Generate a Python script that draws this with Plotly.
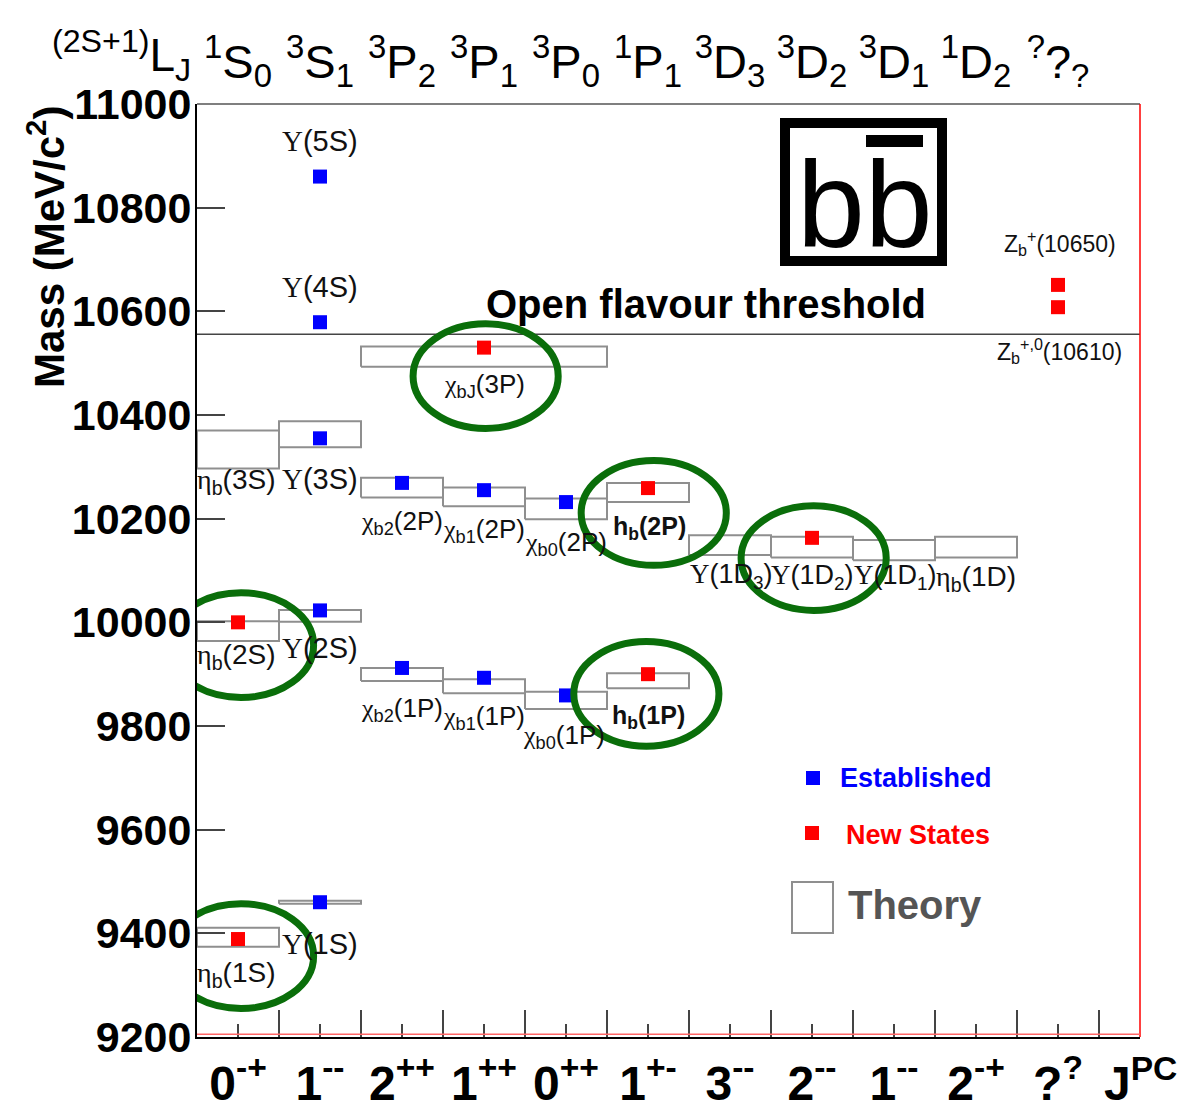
import plotly.graph_objects as go

# ------------------------------------------------------------------ data
spin_labels = ["<sup>1</sup>S<sub>0</sub>", "<sup>3</sup>S<sub>1</sub>", "<sup>3</sup>P<sub>2</sub>",
               "<sup>3</sup>P<sub>1</sub>", "<sup>3</sup>P<sub>0</sub>", "<sup>1</sup>P<sub>1</sub>",
               "<sup>3</sup>D<sub>3</sub>", "<sup>3</sup>D<sub>2</sub>", "<sup>3</sup>D<sub>1</sub>",
               "<sup>1</sup>D<sub>2</sub>", "<sup>?</sup>?<sub>?</sub>"]
jpc_labels = ["0<sup>-+</sup>", "1<sup>--</sup>", "2<sup>++</sup>", "1<sup>++</sup>", "0<sup>++</sup>",
              "1<sup>+-</sup>", "3<sup>--</sup>", "2<sup>--</sup>", "1<sup>--</sup>", "2<sup>-+</sup>",
              "?<sup>?</sup>"]

# established states (column index, mass in MeV/c^2)
est_names = ["Υ(1S)", "Υ(2S)", "Υ(3S)", "Υ(4S)", "Υ(5S)",
             "χb2(1P)", "χb1(1P)", "χb0(1P)", "χb2(2P)", "χb1(2P)", "χb0(2P)"]
est_col = [1, 1, 1, 1, 1, 2, 3, 4, 2, 3, 4]
est_mass = [9460, 10023, 10355, 10579, 10860, 9912, 9893, 9859, 10269, 10255, 10232]

# new states
new_names = ["ηb(1S)", "ηb(2S)", "hb(1P)", "hb(2P)", "Υ(1D2)", "χbJ(3P)", "Zb(10610)", "Zb(10650)"]
new_col = [0, 0, 5, 5, 7, 3, 10, 10]
new_mass = [9389, 10000, 9900, 10259, 10163, 10530, 10608, 10651]

# theory predictions (column span, mass range)
theory_names = ["ηb(1S)", "Υ(1S)", "ηb(2S)", "Υ(2S)", "ηb(3S)", "Υ(3S)",
                "χb2(1P)", "χb1(1P)", "χb0(1P)", "hb(1P)",
                "χb2(2P)", "χb1(2P)", "χb0(2P)", "hb(2P)",
                "Υ(1D3)", "Υ(1D2)", "Υ(1D1)", "ηb2(1D)", "χbJ(3P)"]
theory_col_from = [0, 1, 0, 1, 0, 1, 2, 3, 4, 5, 2, 3, 4, 5, 6, 7, 8, 9, 2]
theory_col_to = [1, 2, 1, 2, 1, 2, 3, 4, 5, 6, 3, 4, 5, 6, 7, 8, 9, 10, 5]
theory_low = [9374, 9457, 9964, 10001, 10297, 10338, 9887, 9863, 9833, 9873,
              10241, 10224, 10199, 10232, 10130, 10125, 10120, 10125, 10493]
theory_high = [9411, 9463, 10002, 10024, 10370, 10388, 9912, 9890, 9866, 9902,
               10279, 10260, 10239, 10269, 10168, 10165, 10159, 10165, 10532]

threshold_mass = 10556
y_ticks = [9200, 9400, 9600, 9800, 10000, 10200, 10400, 10600, 10800, 11000]

# ------------------------------------------------------------------ helpers / styles
OFF = 8                      # default page body margin
L, R, T, B = 189, 71, 96, 80
W, H = 1203, 1109
PW, PH = W - L - R, H - T - B


def px(xp):                  # screen pixel -> paper x
    return (xp - OFF - L) / PW


def py(yp):                  # screen pixel -> paper y
    return (H - B - (yp - OFF)) / PH


def g(ch):
    return "<span style='font-family:Liberation Serif'>" + ch + "</span>"


centers = [i + 0.5 for i in range(len(jpc_labels))]

fig = go.Figure()

# theory boxes
bx, by = [], []
for c0, c1, lo, hi in zip(theory_col_from, theory_col_to, theory_low, theory_high):
    bx += [c0, c1, c1, c0, c0, None]
    by += [lo, lo, hi, hi, lo, None]
fig.add_trace(go.Scatter(x=bx, y=by, mode="lines", line=dict(color="#8f8f8f", width=2),
                         hoverinfo="skip", name="Theory"))

# threshold line (on the top axis so that axis is drawn)
fig.add_trace(go.Scatter(x=[0, 11.5], y=[threshold_mass, threshold_mass], xaxis="x2",
                         mode="lines", line=dict(color="#444444", width=1.5),
                         hoverinfo="skip", name="threshold"))

fig.add_trace(go.Scatter(x=[c + 0.5 for c in est_col], y=est_mass, mode="markers",
                         marker=dict(symbol="square", size=14, color="#0000ff", line=dict(width=0)),
                         text=est_names, name="Established"))
fig.add_trace(go.Scatter(x=[c + 0.5 for c in new_col], y=new_mass, mode="markers",
                         marker=dict(symbol="square", size=14, color="#ff0000", line=dict(width=0)),
                         text=new_names, name="New States"))

# ------------------------------------------------------------------ state labels
labels = [
    (g("Υ") + "(5S)", 1.5, 10928, 29, False),
    (g("Υ") + "(4S)", 1.5, 10647, 29, False),
    (g("χ") + "<sub>bJ</sub>(3P)", 3.5, 10456, 26, False),
    (g("η") + "<sub>b</sub>(3S)", 0.48, 10271, 28, False),
    (g("Υ") + "(3S)", 1.5, 10276, 29, False),
    (g("χ") + "<sub>b2</sub>(2P)", 2.5, 10192, 26, False),
    (g("χ") + "<sub>b1</sub>(2P)", 3.5, 10178, 26, False),
    (g("χ") + "<sub>b0</sub>(2P)", 4.5, 10153, 26, False),
    ("h<sub>b</sub>(2P)", 5.52, 10182, 25, True),
    (g("Υ") + "(1D<sub>3</sub>)", 6.52, 10089, 27, False),
    (g("Υ") + "(1D<sub>2</sub>)", 7.5, 10087, 27, False),
    (g("Υ") + "(1D<sub>1</sub>)", 8.52, 10087, 27, False),
    (g("η") + "<sub>b</sub>(1D)", 9.5, 10085, 28, False),
    (g("η") + "<sub>b</sub>(2S)", 0.48, 9935, 28, False),
    (g("Υ") + "(2S)", 1.5, 9950, 29, False),
    (g("χ") + "<sub>b2</sub>(1P)", 2.5, 9831, 26, False),
    (g("χ") + "<sub>b1</sub>(1P)", 3.5, 9817, 26, False),
    (g("χ") + "<sub>b0</sub>(1P)", 4.48, 9779, 26, False),
    ("h<sub>b</sub>(1P)", 5.5, 9817, 25, True),
    (g("η") + "<sub>b</sub>(1S)", 0.48, 9320, 28, False),
    (g("Υ") + "(1S)", 1.5, 9379, 29, False),
]
ann = []
for txt, xc, yc, fs, bold in labels:
    ann.append(dict(x=xc, y=yc, xref="x", yref="y", text=txt, showarrow=False,
                    xanchor="center", yanchor="middle",
                    font=dict(size=fs, color="#111111", weight="bold" if bold else "normal")))
ann.append(dict(x=10.52, y=10732, xref="x", yref="y", text="Z<sub>b</sub><sup>+</sup>(10650)",
                showarrow=False, xanchor="center", yanchor="middle",
                font=dict(size=23, color="#111111")))
ann.append(dict(x=10.52, y=10523, xref="x", yref="y", text="Z<sub>b</sub><sup>+,0</sup>(10610)",
                showarrow=False, xanchor="center", yanchor="middle",
                font=dict(size=23, color="#111111")))


def pann(xs, ys, text, **kw):
    d = dict(x=px(xs), y=py(ys), xref="paper", yref="paper", text=text, showarrow=False,
             xanchor="center", yanchor="middle")
    d.update(kw)
    ann.append(d)


pann(706, 304, "Open flavour threshold", font=dict(size=40, weight="bold"))
pann(865, 205, "bb", font=dict(size=122))
pann(121, 55, "<sup>(2S+1)</sup>L<sub>J</sub>", font=dict(size=46))
pann(1140, 1080, "<b>J<sup>PC</sup></b>", font=dict(size=48))
pann(46, 247, "<b>Mass (MeV/c<sup>2</sup>)</b>", textangle=-90, font=dict(size=42))
pann(916, 778, "Established", font=dict(size=27, color="#0000ff", weight="bold"))
pann(918, 835, "New States", font=dict(size=27, color="#ff0000", weight="bold"))
pann(915, 905, "Theory", font=dict(size=40, color="#555555", weight="bold"))

shapes = []
# ellipses around the new states
circled = [("χbJ(3P)", 3.52, 10475), ("hb(2P)", 5.57, 10211), ("Υ(1D2)", 7.52, 10124),
           ("ηb(2S)", 0.537, 9956), ("hb(1P)", 5.48, 9862), ("ηb(1S)", 0.537, 9356)]
for _, xc, yc in circled:
    shapes.append(dict(type="circle", xref="x", yref="y", x0=xc - 0.885, x1=xc + 0.885,
                       y0=yc - 101, y1=yc + 101, line=dict(color="rgb(10,110,10)", width=7)))

# frame pieces
shapes.append(dict(type="line", xref="paper", yref="paper", x0=0, x1=1, y0=1, y1=1,
                   line=dict(color="#555555", width=1.5)))
shapes.append(dict(type="line", xref="paper", yref="paper", x0=1, x1=1, y0=0, y1=1,
                   line=dict(color="#ff0000", width=1.5)))
shapes.append(dict(type="line", xref="paper", yref="paper", x0=0, x1=1, y0=0.003, y1=0.003,
                   line=dict(color="#ff6666", width=1.5)))
# logo box and overbar
shapes.append(dict(type="rect", xref="paper", yref="paper", x0=px(785), x1=px(942),
                   y0=py(261), y1=py(123), line=dict(color="black", width=10)))
shapes.append(dict(type="rect", xref="paper", yref="paper", x0=px(866), x1=px(923),
                   y0=py(147), y1=py(135), line=dict(width=0), fillcolor="black"))
# legend symbols
shapes.append(dict(type="rect", xref="paper", yref="paper", x0=px(806), x1=px(820),
                   y0=py(785), y1=py(771), line=dict(width=0), fillcolor="#0000ff"))
shapes.append(dict(type="rect", xref="paper", yref="paper", x0=px(805), x1=px(819),
                   y0=py(840), y1=py(826), line=dict(width=0), fillcolor="#ff0000"))
shapes.append(dict(type="rect", xref="paper", yref="paper", x0=px(792), x1=px(833),
                   y0=py(933), y1=py(882), line=dict(color="#8f8f8f", width=2)))

fig.update_layout(
    width=W, height=H, margin=dict(l=L, r=R, t=T, b=B, autoexpand=False),
    plot_bgcolor="white", paper_bgcolor="white", showlegend=False,
    font=dict(family="Liberation Sans", color="black"),
    annotations=ann, shapes=shapes,
    xaxis=dict(range=[0, 11.5], tickmode="array", tickvals=centers, ticktext=jpc_labels,
               automargin=False, ticklabelstandoff=3,
               ticks="inside", ticklen=13, tickwidth=1.5, tickcolor="#444444",
               showline=True, linecolor="black", linewidth=2, showgrid=False, zeroline=False,
               tickfont=dict(size=48, weight="bold"),
               minor=dict(tickmode="array", tickvals=list(range(1, 12)), ticks="inside",
                          ticklen=27, tickwidth=1.5, tickcolor="#444444", showgrid=False)),
    xaxis2=dict(overlaying="x", side="top", matches="x", tickmode="array", tickvals=centers,
                ticktext=spin_labels, ticks="", showline=False, showgrid=False, zeroline=False,
                automargin=False, ticklabelstandoff=16, tickfont=dict(size=47)),
    yaxis=dict(range=[9200, 11000], tickmode="array", tickvals=y_ticks,
               ticktext=[str(v) for v in y_ticks], ticks="inside", ticklen=28, tickwidth=1.5,
               automargin=False, ticklabelstandoff=-5,
               tickcolor="#444444", showline=True, linecolor="black", linewidth=2,
               showgrid=False, zeroline=False, tickfont=dict(size=43, weight="bold")),
)

fig.write_html("out.html")
